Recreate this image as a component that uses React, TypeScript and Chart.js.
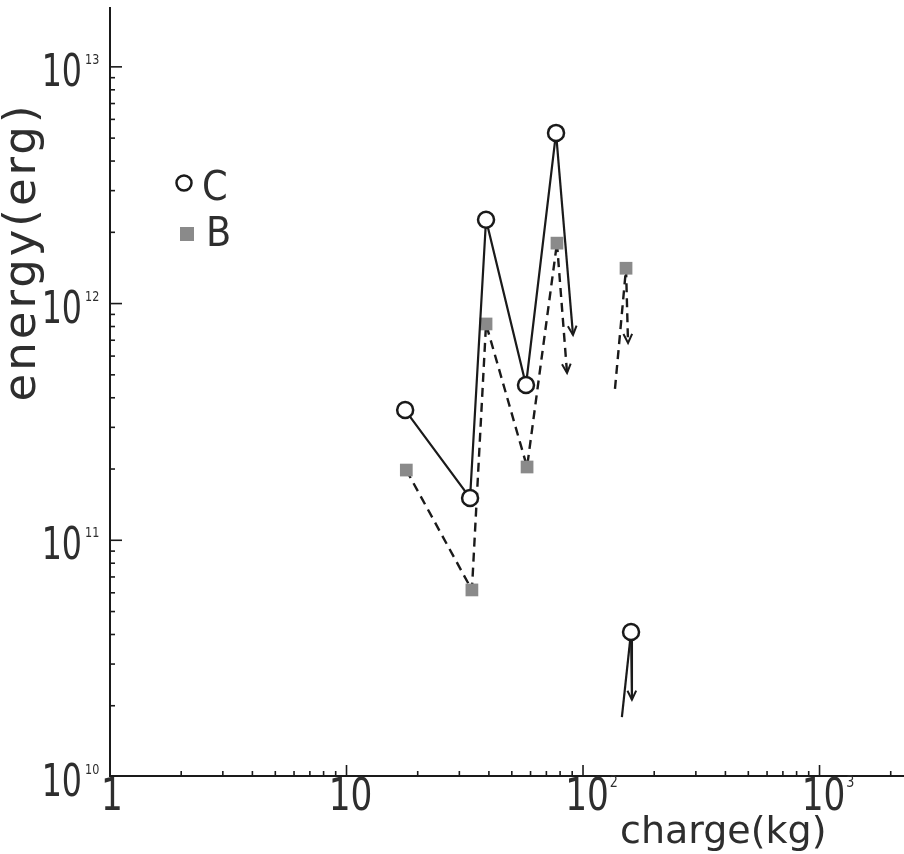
import React, { useEffect, useRef } from "react";
import { Chart, registerables } from "chart.js";

Chart.register(...registerables);

// ---- axis ranges ----
const xMin = 1;
const xMax = 2276;
const yMin = 1e10;
const yMax = 1.79e13;

// ---- series C (open circles, solid line) ----
const cCharge = [17.7, 33.3, 38.9, 57.4, 76.9];
const cEnergy = [3.55e11, 1.51e11, 2.26e12, 4.53e11, 5.26e12];
const cLoneCharge = [159.6];
const cLoneEnergy = [4.1e10];
const cArrowTipCharge = [90.7, 161];
const cArrowTipEnergy = [7.37e11, 2.12e10];
const cTailCharge = [146];
const cTailEnergy = [1.79e10];

// ---- series B (grey squares, dashed line) ----
const bCharge = [17.9, 33.9, 38.9, 58.0, 77.6];
const bEnergy = [1.98e11, 6.17e10, 8.2e11, 2.04e11, 1.8e12];
const bLoneCharge = [152];
const bLoneEnergy = [1.41e12];
const bArrowTipCharge = [85.6, 155];
const bArrowTipEnergy = [5.09e11, 6.82e11];
const bTailCharge = [136.5];
const bTailEnergy = [4.36e11];

// ---- tick labels ----
const xTickValues = [1, 10, 100, 1000];
const xTickBase = ["1", "10", "10", "10"];
const xTickExp = ["", "", "2", "3"];
const yTickValues = [1e10, 1e11, 1e12, 1e13];
const yTickBase = ["10", "10", "10", "10"];
const yTickExp = ["10", "11", "12", "13"];

const xTitle = "charge(kg)";
const yTitle = "energy(erg)";
const legendLabels = ["C", "B"];

const INK = "#1a1a1a";
const GREY = "#8a8a8a";
const TEXT = "#2e2e2e";
const FONT = "'DejaVu Sans', sans-serif";

const pts = (xs: number[], ys: number[]) => xs.map((x, i) => ({ x, y: ys[i] }));

function drawText(ctx: CanvasRenderingContext2D, text: string, x: number, y: number, size: number, sx: number, align: CanvasTextAlign) {
  ctx.save();
  ctx.translate(x, y);
  ctx.scale(sx, 1);
  ctx.font = `${size}px ${FONT}`;
  ctx.textAlign = align;
  ctx.textBaseline = "alphabetic";
  ctx.fillText(text, 0, 0);
  ctx.restore();
}

function textWidth(ctx: CanvasRenderingContext2D, text: string, size: number, sx: number) {
  ctx.save();
  ctx.font = `${size}px ${FONT}`;
  const w = ctx.measureText(text).width * sx;
  ctx.restore();
  return w;
}

const arrowPlugin = {
  id: "arrowHeads",
  afterDatasetsDraw(chart: any) {
    const ctx = chart.ctx as CanvasRenderingContext2D;
    chart.data.datasets.forEach((ds: any, i: number) => {
      if (!ds.arrow) return;
      const meta = chart.getDatasetMeta(i);
      const n = meta.data.length;
      if (n < 2) return;
      const p0 = meta.data[n - 2];
      const p1 = meta.data[n - 1];
      const ang = Math.atan2(p1.y - p0.y, p1.x - p0.x);
      const len = 10;
      const spread = 0.45;
      ctx.save();
      ctx.strokeStyle = INK;
      ctx.lineWidth = 2;
      ctx.setLineDash([]);
      ctx.beginPath();
      ctx.moveTo(p1.x - len * Math.cos(ang - spread), p1.y - len * Math.sin(ang - spread));
      ctx.lineTo(p1.x, p1.y);
      ctx.lineTo(p1.x - len * Math.cos(ang + spread), p1.y - len * Math.sin(ang + spread));
      ctx.stroke();
      ctx.restore();
    });
  },
};

const decorPlugin = {
  id: "decor",
  afterDraw(chart: any) {
    const ctx = chart.ctx as CanvasRenderingContext2D;
    const a = chart.chartArea;
    const xs = chart.scales.x;
    const ys = chart.scales.y;
    ctx.save();
    ctx.strokeStyle = INK;
    ctx.fillStyle = TEXT;
    ctx.lineCap = "butt";

    // axis lines
    ctx.lineWidth = 2;
    ctx.beginPath();
    ctx.moveTo(a.left, a.top);
    ctx.lineTo(a.left, a.bottom - 1);
    ctx.lineTo(a.right, a.bottom - 1);
    ctx.stroke();

    // x ticks (inward)
    ctx.lineWidth = 1.6;
    for (let d = 0; d <= 3; d++) {
      for (let i = 1; i <= 9; i++) {
        const v = i * Math.pow(10, d);
        if (v <= xMin || v > xMax) continue;
        const px = xs.getPixelForValue(v);
        const len = i === 1 ? 11 : 5;
        ctx.beginPath();
        ctx.moveTo(px, a.bottom - 1);
        ctx.lineTo(px, a.bottom - 1 - len);
        ctx.stroke();
      }
    }
    // y ticks (inward)
    for (let d = 10; d <= 13; d++) {
      for (let i = 1; i <= 9; i++) {
        const v = i * Math.pow(10, d);
        if (v <= yMin || v > yMax) continue;
        const py = ys.getPixelForValue(v);
        const len = i === 1 ? 12 : 5;
        ctx.beginPath();
        ctx.moveTo(a.left, py);
        ctx.lineTo(a.left + len, py);
        ctx.stroke();
      }
    }

    // y tick labels
    yTickValues.forEach((v, k) => {
      const py = ys.getPixelForValue(v);
      drawText(ctx, yTickBase[k], 82, py + 19, 44, 0.72, "right");
      drawText(ctx, yTickExp[k], 85, py - 3, 14, 0.8, "left");
    });

    // x tick labels
    xTickValues.forEach((v, k) => {
      const px = xs.getPixelForValue(v);
      const cx = px + (v === 1 ? 2 : 4);
      drawText(ctx, xTickBase[k], cx, 810, 44, 0.78, "center");
      if (xTickExp[k]) {
        const w = textWidth(ctx, xTickBase[k], 44, 0.78);
        drawText(ctx, xTickExp[k], cx + w / 2 + 1, 787, 15, 0.85, "left");
      }
    });

    // axis titles
    drawText(ctx, xTitle, 620, 843, 38, 1, "left");
    ctx.save();
    ctx.translate(35, 252);
    ctx.rotate(-Math.PI / 2);
    ctx.font = `45px ${FONT}`;
    (ctx as any).letterSpacing = "3px";
    ctx.textAlign = "center";
    ctx.textBaseline = "alphabetic";
    ctx.fillText(yTitle, 0, 0);
    ctx.restore();

    // legend
    ctx.lineWidth = 2.5;
    ctx.strokeStyle = INK;
    ctx.fillStyle = "#fff";
    ctx.beginPath();
    ctx.arc(184, 183, 7.5, 0, Math.PI * 2);
    ctx.fill();
    ctx.stroke();
    ctx.fillStyle = GREY;
    ctx.fillRect(180, 227, 14, 14);
    ctx.fillStyle = TEXT;
    drawText(ctx, legendLabels[0], 202, 200, 40, 0.92, "left");
    drawText(ctx, legendLabels[1], 206, 246, 40, 0.92, "left");

    ctx.restore();
  },
};

export default function App() {
  const ref = useRef<HTMLCanvasElement | null>(null);

  useEffect(() => {
    if (!ref.current) return;
    const solid = { borderColor: INK, borderWidth: 2.2, pointRadius: 0, fill: false, tension: 0 };
    const dashed = { borderColor: INK, borderWidth: 2.4, borderDash: [9, 6], pointRadius: 0, fill: false, tension: 0 };

    const cTop = { x: cCharge[cCharge.length - 1], y: cEnergy[cEnergy.length - 1] };
    const cLone = { x: cLoneCharge[0], y: cLoneEnergy[0] };
    const bTop = { x: bCharge[bCharge.length - 1], y: bEnergy[bEnergy.length - 1] };
    const bLone = { x: bLoneCharge[0], y: bLoneEnergy[0] };

    const chart = new Chart(ref.current, {
      type: "line",
      data: {
        datasets: [
          {
            label: "C",
            data: pts(cCharge, cEnergy),
            borderColor: INK,
            borderWidth: 2.2,
            pointRadius: 8,
            pointBorderWidth: 2.5,
            pointBackgroundColor: "#fff",
            pointBorderColor: INK,
            tension: 0,
          },
          {
            label: "C lone",
            data: pts(cLoneCharge, cLoneEnergy),
            showLine: false,
            pointRadius: 8,
            pointBorderWidth: 2.5,
            pointBackgroundColor: "#fff",
            pointBorderColor: INK,
          },
          { label: "C lim 1", data: [cTop, { x: cArrowTipCharge[0], y: cArrowTipEnergy[0] }], arrow: true, ...solid } as any,
          { label: "C lim 2", data: [cLone, { x: cArrowTipCharge[1], y: cArrowTipEnergy[1] }], arrow: true, ...solid } as any,
          { label: "C tail", data: [{ x: cTailCharge[0], y: cTailEnergy[0] }, cLone], ...solid } as any,
          {
            label: "B",
            data: pts(bCharge, bEnergy),
            borderColor: INK,
            borderWidth: 2.4,
            borderDash: [9, 6],
            pointStyle: "rect",
            pointRadius: 9,
            pointBorderWidth: 0,
            pointBackgroundColor: GREY,
            pointBorderColor: GREY,
            tension: 0,
          },
          {
            label: "B lone",
            data: pts(bLoneCharge, bLoneEnergy),
            showLine: false,
            pointStyle: "rect",
            pointRadius: 9,
            pointBorderWidth: 0,
            pointBackgroundColor: GREY,
            pointBorderColor: GREY,
          },
          { label: "B lim 1", data: [bTop, { x: bArrowTipCharge[0], y: bArrowTipEnergy[0] }], arrow: true, ...dashed } as any,
          { label: "B lim 2", data: [bLone, { x: bArrowTipCharge[1], y: bArrowTipEnergy[1] }], arrow: true, ...dashed } as any,
          { label: "B tail", data: [{ x: bTailCharge[0], y: bTailEnergy[0] }, bLone], ...dashed } as any,
        ],
      },
      options: {
        animation: false,
        responsive: false,
        devicePixelRatio: 1,
        layout: { autoPadding: false, padding: { left: 110, top: 7, right: 0, bottom: 77 } },
        plugins: { legend: { display: false }, tooltip: { enabled: false } },
        scales: {
          x: { type: "logarithmic", min: xMin, max: xMax, display: false },
          y: { type: "logarithmic", min: yMin, max: yMax, display: false },
        },
      },
      plugins: [arrowPlugin, decorPlugin],
    } as any);
    return () => chart.destroy();
  }, []);

  return (
    <div style={{ position: "fixed", left: 0, top: 0, width: 904, height: 854, background: "#fff" }}>
      <canvas ref={ref} width={904} height={854} style={{ display: "block" }} />
    </div>
  );
}
